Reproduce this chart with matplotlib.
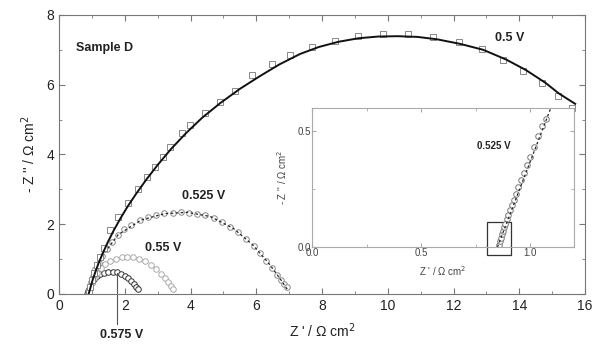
import matplotlib
matplotlib.use("Agg")
import matplotlib.pyplot as plt
from matplotlib.patches import Rectangle
from matplotlib.ticker import MultipleLocator

plt.rcParams['font.family'] = ['Liberation Sans', 'DejaVu Sans']

# --- data (Z' , -Z'' in Ohm cm2) ---
# 0.5 V : squares + solid fit
z05_re = [0.92, 0.95, 1.0, 1.07, 1.15, 1.25, 1.37, 1.55, 1.8, 2.1, 2.4, 2.67, 2.92,
          3.16, 3.37, 3.74, 3.98, 4.44, 4.89, 5.35, 5.86, 6.47, 7.02, 7.69, 8.39,
          9.09, 9.85, 10.6, 11.37, 12.16, 12.86, 13.5, 14.1, 14.68, 15.17, 15.59]
z05_im = [0.05, 0.2, 0.4, 0.6, 0.82, 1.05, 1.32, 1.83, 2.2, 2.6, 3.0, 3.35, 3.64,
          3.93, 4.21, 4.61, 4.84, 5.19, 5.5, 5.82, 6.27, 6.59, 6.85, 7.08, 7.25,
          7.39, 7.45, 7.45, 7.36, 7.22, 7.02, 6.7, 6.39, 6.04, 5.67, 5.33]
fit05_re = [0.9, 0.95, 1.02, 1.1, 1.2, 1.33, 1.48, 1.65, 1.85, 2.08, 2.35, 2.67,
            3.0, 3.4, 3.85, 4.35, 4.9, 5.5, 6.1, 6.7, 7.33, 7.9, 8.5, 9.1, 9.7,
            10.3, 10.9, 11.5, 12.2, 12.9, 13.6, 14.2, 14.8, 15.2, 15.7]
fit05_im = [0.0, 0.17, 0.4, 0.62, 0.88, 1.17, 1.48, 1.8, 2.14, 2.5, 2.88, 3.3,
            3.7, 4.15, 4.6, 5.05, 5.47, 5.88, 6.24, 6.58, 6.88, 7.08, 7.23, 7.33, 7.38,
            7.39, 7.37, 7.3, 7.17, 7.0, 6.72, 6.42, 6.05, 5.75, 5.45]

# 0.525 V : circles + dashed fit
z0525_re = [0.88, 0.9, 0.93, 0.97, 1.02, 1.1, 1.2, 1.32, 1.45, 1.6, 1.78, 1.98, 2.2,
            2.45, 2.7, 2.95, 3.2, 3.45, 3.7, 3.95, 4.2, 4.45, 4.7, 4.95, 5.2, 5.45,
            5.7, 5.92, 6.12, 6.3, 6.47, 6.62, 6.75, 6.85, 6.92]
z0525_im = [0.0, 0.1, 0.2, 0.35, 0.5, 0.7, 0.9, 1.1, 1.3, 1.5, 1.68, 1.85, 1.99,
            2.11, 2.2, 2.27, 2.31, 2.33, 2.34, 2.33, 2.3, 2.25, 2.17, 2.06, 1.93, 1.77,
            1.58, 1.38, 1.16, 0.95, 0.74, 0.55, 0.4, 0.28, 0.2]
fit0525_re = [0.88, 1.0, 1.3, 1.8, 2.5, 3.2, 3.9, 4.6, 5.3, 5.9, 6.4, 6.75, 6.95]
fit0525_im = [0.0, 0.45, 1.08, 1.7, 2.12, 2.3, 2.34, 2.22, 1.88, 1.4, 0.85, 0.4, 0.12]

# 0.55 V
z055_re = [0.88, 0.9, 0.94, 0.99, 1.06, 1.15, 1.26, 1.4, 1.55, 1.72, 1.9, 2.08,
           2.26, 2.44, 2.62, 2.8, 2.96, 3.1, 3.22, 3.32, 3.4, 3.47]
z055_im = [0.0, 0.08, 0.18, 0.3, 0.45, 0.6, 0.74, 0.86, 0.95, 1.01, 1.05, 1.06,
           1.05, 1.01, 0.94, 0.84, 0.72, 0.58, 0.45, 0.33, 0.23, 0.14]

# 0.575 V
z0575_re = [0.86, 0.88, 0.91, 0.95, 1.0, 1.07, 1.15, 1.25, 1.37, 1.5, 1.63, 1.76,
            1.89, 2.0, 2.1, 2.19, 2.27, 2.34, 2.4]
z0575_im = [0.0, 0.07, 0.15, 0.24, 0.33, 0.42, 0.5, 0.56, 0.6, 0.62, 0.63, 0.62,
            0.58, 0.52, 0.45, 0.37, 0.29, 0.21, 0.14]

# inset : high-frequency part of 0.525 V
ins_re = [0.855, 0.86, 0.865, 0.87, 0.875, 0.88, 0.886, 0.893, 0.9, 0.908, 0.916,
          0.925, 0.935, 0.946, 0.958, 0.97, 0.984, 1.0, 1.016, 1.035, 1.055, 1.073]
ins_im = [0.01, 0.025, 0.04, 0.055, 0.07, 0.085, 0.1, 0.12, 0.14, 0.16, 0.18,
          0.205, 0.23, 0.26, 0.29, 0.32, 0.355, 0.39, 0.43, 0.48, 0.52, 0.552]
ins_fit_re = [0.85, 0.96, 1.095]
ins_fit_im = [0.0, 0.27, 0.6]

spine_col = '#777777'
text_col = '#222222'

fig = plt.figure(figsize=(5.97, 3.47), dpi=100)
ax = fig.add_axes([0.099, 0.153, 0.881, 0.804])

mk = dict(linestyle='none', markerfacecolor='white', markeredgewidth=0.7)
ax.plot(z0575_re, z0575_im, 'o', markersize=4, markeredgecolor='#333333', **mk)
ax.plot(z055_re, z055_im, 'o', markersize=4, markeredgecolor='#aaaaaa', **mk)
ax.plot(z0525_re, z0525_im, 'o', markersize=4, markeredgecolor='#888888', **mk)
ax.plot(fit0525_re, fit0525_im, '--', color='#222222', lw=0.9, dashes=(2, 2))
ax.plot(z05_re, z05_im, 's', markersize=4.5, markeredgecolor='#888888', **mk)
ax.plot(fit05_re, fit05_im, '-', color='#111111', lw=1.4)

ax.set_xlim(0, 16)
ax.set_ylim(0, 8)
ax.xaxis.set_major_locator(MultipleLocator(2))
ax.xaxis.set_minor_locator(MultipleLocator(1))
ax.yaxis.set_major_locator(MultipleLocator(2))
ax.yaxis.set_minor_locator(MultipleLocator(1))
ax.tick_params(which='both', direction='in', top=True, right=True, color=spine_col,
               labelcolor=text_col, labelsize=10)
ax.tick_params(which='major', length=4)
ax.tick_params(which='minor', length=2)
for s in ax.spines.values():
    s.set_color(spine_col)
ax.set_xlabel("Z ' / \u03a9 cm$^2$", fontsize=10, color=text_col, labelpad=6)
ax.set_ylabel("- Z '' / \u03a9 cm$^2$", fontsize=10, color=text_col, labelpad=6)

bold = dict(fontsize=9, fontweight='bold', color=text_col)
ax.text(0.5, 7.05, 'Sample D', va='center', **bold)
ax.text(13.25, 7.33, '0.5 V', va='center', **bold)
ax.text(3.74, 2.81, '0.525 V', va='center', **bold)
ax.text(2.61, 1.32, '0.55 V', va='center', **bold)
ax.text(1.9, -1.17, '0.575 V', ha='center', va='center', **bold)
ax.plot([1.75, 1.75], [-0.85, 0.6], color='#555555', lw=0.8, clip_on=False)

# --- inset ---
ins = fig.add_axes([0.523, 0.288, 0.438, 0.401])
ins.plot(ins_re, ins_im, 'o', markersize=4, markeredgecolor='#777777', **mk)
ins.plot(ins_fit_re, ins_fit_im, '--', color='#222222', lw=0.9, dashes=(2, 2))
ins.add_patch(Rectangle((0.8, -0.035), 0.114, 0.145, fill=False, edgecolor='#333333',
                        lw=0.9, clip_on=False))
ins.set_xlim(0, 1.2)
ins.set_ylim(0, 0.6)
ins.xaxis.set_major_locator(MultipleLocator(0.5))
ins.xaxis.set_minor_locator(MultipleLocator(0.25))
ins.yaxis.set_major_locator(MultipleLocator(0.5))
ins.yaxis.set_minor_locator(MultipleLocator(0.25))
ins.xaxis.set_major_formatter(lambda v, p: f'{v:.1f}')
ins.yaxis.set_major_formatter(lambda v, p: f'{v:.1f}')
ins.tick_params(which='both', direction='in', top=True, right=True, color='#aaaaaa',
                labelcolor='#444444', labelsize=7, pad=1)
ins.tick_params(which='major', length=3)
ins.tick_params(which='minor', length=2)
for s in ins.spines.values():
    s.set_color('#aaaaaa')
ins.set_xlabel("Z ' / \u03a9 cm$^2$", fontsize=7, color='#444444', labelpad=4)
ins.set_ylabel("- Z '' / \u03a9 cm$^2$", fontsize=7, color='#444444', labelpad=6)
ins.text(0.755, 0.435, '0.525 V', fontsize=7, fontweight='bold', color=text_col, va='center')

fig.savefig('out.png', dpi=100)
